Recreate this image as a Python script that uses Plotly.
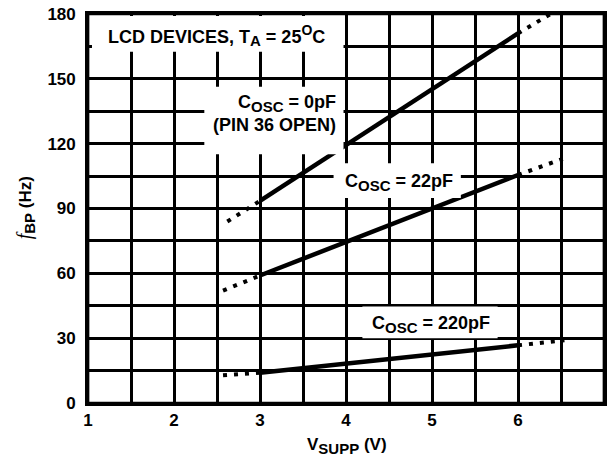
import plotly.graph_objects as go

# ---- data ----
x_ticks = [1, 2, 3, 4, 5, 6]
y_ticks = [0, 30, 60, 90, 120, 150, 180]

# C_OSC = 0pF
c0_solid_x = [3.0, 6.0]
c0_solid_y = [93.5, 171.0]
c0_dot_lo_x = [2.62, 3.0]
c0_dot_lo_y = [84.0, 93.5]
c0_dot_hi_x = [6.0, 6.42]
c0_dot_hi_y = [171.0, 181.0]

# C_OSC = 22pF
c22_solid_x = [3.0, 6.0]
c22_solid_y = [59.0, 105.5]
c22_dot_lo_x = [2.57, 3.0]
c22_dot_lo_y = [52.0, 59.0]
c22_dot_hi_x = [6.0, 6.52]
c22_dot_hi_y = [105.5, 113.0]

# C_OSC = 220pF
c220_solid_x = [3.0, 6.0]
c220_solid_y = [14.0, 26.7]
c220_dot_lo_x = [2.57, 3.0]
c220_dot_lo_y = [12.8, 14.0]
c220_dot_hi_x = [6.0, 6.54]
c220_dot_hi_y = [26.7, 29.0]

FONT = "Liberation Sans, Arial, Helvetica, sans-serif"

# plot area in page pixels (body margin removed via post_script)
W, H = 612, 461
L, R, T, B = 88, 607, 12, 403


def px(xp):
    return (xp - L) / (R - L)


def py(yp):
    return (B - yp) / (B - T)


fig = go.Figure()

for sx, sy, lx, ly, hx, hy in [
    (c0_solid_x, c0_solid_y, c0_dot_lo_x, c0_dot_lo_y, c0_dot_hi_x, c0_dot_hi_y),
    (c22_solid_x, c22_solid_y, c22_dot_lo_x, c22_dot_lo_y, c22_dot_hi_x, c22_dot_hi_y),
    (c220_solid_x, c220_solid_y, c220_dot_lo_x, c220_dot_lo_y, c220_dot_hi_x, c220_dot_hi_y),
]:
    fig.add_trace(go.Scatter(x=sx, y=sy, mode="lines",
                             line=dict(color="black", width=4.5), showlegend=False,
                             cliponaxis=False))
    for dx, dy in [(lx, ly), (hx, hy)]:
        fig.add_trace(go.Scatter(x=dx, y=dy, mode="lines",
                                 line=dict(color="black", width=4, dash="4px,7px"),
                                 showlegend=False, cliponaxis=False))

# white label boxes covering grid (page pixels)
boxes = [
    (92, 14, 345, 50),
    (205, 85, 345, 153),
    (335, 162, 463, 197),
    (364, 306, 500, 338),
]
for x0, y0, x1, y1 in boxes:
    fig.add_shape(type="rect", xref="paper", yref="paper",
                  x0=px(x0), x1=px(x1), y0=py(y1), y1=py(y0),
                  fillcolor="white", line=dict(width=0), layer="above")

# outer frame
fig.add_shape(type="rect", xref="paper", yref="paper", x0=0, x1=1, y0=0, y1=1,
              line=dict(color="black", width=2.7), fillcolor="rgba(0,0,0,0)", layer="above")

SUB = '<sub><span style="font-size:15px">{}</span></sub>'
labels = [
    ("<b>LCD DEVICES, T" + SUB.format("A") + ' = 25<sup><span style="font-size:14px">O</span></sup>C</b>',
     217, 34, "center"),
    ("<b>C" + SUB.format("OSC") + " = 0pF<br>(PIN 36 OPEN)</b>", 339, 112, "right"),
    ("<b>C" + SUB.format("OSC") + " = 22pF</b>", 401, 181, "center"),
    ("<b>C" + SUB.format("OSC") + " = 220pF</b>", 433, 324, "center"),
]
for txt, xp, yp, al in labels:
    fig.add_annotation(text=txt, xref="paper", yref="paper", x=px(xp), y=py(yp),
                       xanchor=al, yanchor="middle", showarrow=False,
                       align=al, font=dict(family=FONT, size=18, color="black"))

# axis titles
fig.add_annotation(text='<span style="font-family:Liberation Serif;font-style:italic;font-size:20px">f</span>'
                        '<b>' + SUB.format("BP") + ' (Hz)</b>',
                   xref="paper", yref="paper", x=px(25), y=py(207), textangle=-90,
                   showarrow=False, xanchor="center", yanchor="middle",
                   font=dict(family=FONT, size=17, color="black"))
fig.add_annotation(text="<b>V" + SUB.format("SUPP") + " (V)</b>",
                   xref="paper", yref="paper", x=px(349), y=py(446),
                   showarrow=False, xanchor="center", yanchor="middle",
                   font=dict(family=FONT, size=17, color="black"))

axis_common = dict(showline=True, linecolor="black", linewidth=2.7, mirror=True,
                   showgrid=True, gridcolor="black", gridwidth=2.7, zeroline=False,
                   ticks="", ticklabeloverflow="allow",
                   tickfont=dict(family=FONT, size=17, color="black", weight="bold"))

fig.update_xaxes(range=[1, 7], tickvals=x_ticks, ticktext=[str(v) for v in x_ticks],
                 minor=dict(dtick=0.5, tick0=0, showgrid=True, gridcolor="black", gridwidth=2.7),
                 ticklabelstandoff=0, **axis_common)
fig.update_yaxes(range=[0, 180], tickvals=y_ticks, ticktext=[str(v) for v in y_ticks],
                 minor=dict(dtick=15, tick0=0, showgrid=True, gridcolor="black", gridwidth=2.7),
                 ticklabelstandoff=6, **axis_common)

fig.update_layout(width=W, height=H, margin=dict(l=L, r=W - R, t=T, b=H - B),
                  plot_bgcolor="white", paper_bgcolor="white")

fig.write_html("out.html", config={"displayModeBar": False},
               post_script="document.body.style.margin='0';document.body.style.overflow='hidden';")
